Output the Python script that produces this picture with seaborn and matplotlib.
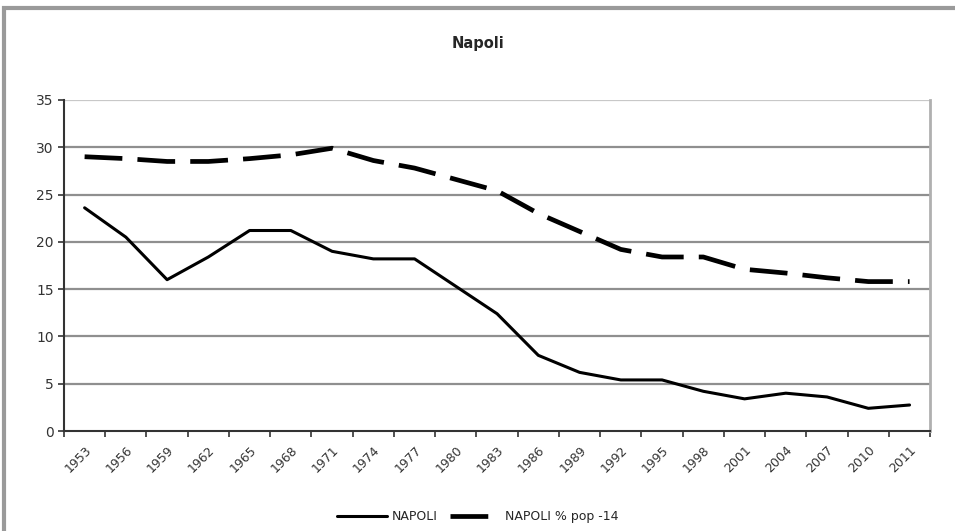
import seaborn as sns
import matplotlib.pyplot as plt
import matplotlib.patches as mpatches
from matplotlib.lines import Line2D
import numpy as np
import pandas as pd

# DATA #
years = ['1953', '1956', '1959', '1962', '1965', '1968', '1971', '1974', '1977', '1980', '1983',
         '1986', '1989', '1992', '1995', '1998', '2001', '2004', '2007', '2010', '2011']
napoli = [23.6, 20.5, 16.0, 18.4, 21.2, 21.2, 19.0, 18.2, 18.2, 15.3, 12.4,
          8.0, 6.2, 5.4, 5.4, 4.2, 3.4, 4.0, 3.6, 2.4, 2.75]
napoli_pop14 = [29.0, 28.8, 28.5, 28.5, 28.8, 29.2, 29.9, 28.6, 27.8, 26.6, 25.4,
                23.0, 21.1, 19.2, 18.4, 18.4, 17.1, 16.7, 16.2, 15.8, 15.8]

df = pd.DataFrame({'pos': np.arange(len(years)), 'year': years,
                   'NAPOLI': napoli, 'NAPOLI % pop -14': napoli_pop14})

# PLOT #
sns.set_style('white')
plt.rcParams['font.family'] = ['DejaVu Sans']
fig = plt.figure(figsize=(9.55, 5.31), dpi=100)
ax = fig.add_axes([0.067, 0.1883, 0.907, 0.6234])

# outer chart frame (cropped at right/bottom like the screenshot)
fig.patches.append(mpatches.Rectangle((0.004, -0.05), 1.2, 1.035, transform=fig.transFigure,
                                      fill=False, edgecolor='#9a9a9a', linewidth=3))

dash = (8, 3.2)
sns.lineplot(data=df, x='pos', y='NAPOLI', color='black', linewidth=2.2, ax=ax)
sns.lineplot(data=df, x='pos', y='NAPOLI % pop -14', color='black', linewidth=3.4, ax=ax)
ax.lines[1].set_dashes(dash)

ax.set_xlim(-0.5, len(years) - 0.5)
ax.set_ylim(0, 35)
ax.set_yticks(range(0, 36, 5))
ax.set_xticks(df['pos'])
ax.set_xticklabels(years, rotation=45, ha='right', rotation_mode='anchor')
ax.set_xticks(np.arange(-0.5, len(years), 1), minor=True)
ax.tick_params(axis='x', which='major', length=0, pad=9, labelsize=9, labelcolor='#333333')
ax.tick_params(axis='x', which='minor', length=4, width=1.2, color='#333333', bottom=True)
ax.tick_params(axis='y', length=4, width=1.2, color='#333333', left=True,
               labelsize=10, labelcolor='#333333')
ax.set_xlabel('')
ax.set_ylabel('')

for v in range(5, 36, 5):
    ax.axhline(v, color='#8f8f8f' if v != 35 else '#c8c8c8', linewidth=1.6, zorder=0)

ax.spines['left'].set_color('#333333')
ax.spines['left'].set_linewidth(1.5)
ax.spines['bottom'].set_color('#333333')
ax.spines['bottom'].set_linewidth(1.5)
ax.spines['right'].set_color('#b0b0b0')
ax.spines['right'].set_linewidth(2)
ax.spines['top'].set_visible(False)

fig.text(0.5, 0.918, 'Napoli', ha='center', va='center', fontsize=10.5, fontweight='bold')

handles = [Line2D([], [], color='black', linewidth=2.2),
           Line2D([], [], color='black', linewidth=3.4, dashes=dash)]
fig.legend(handles, ['NAPOLI', 'NAPOLI % pop -14'], loc='center', bbox_to_anchor=(0.5, 0.027),
           ncol=2, frameon=False, fontsize=9, handlelength=4, columnspacing=1.0, handletextpad=0.4)

plt.savefig('out.png', dpi=100)
